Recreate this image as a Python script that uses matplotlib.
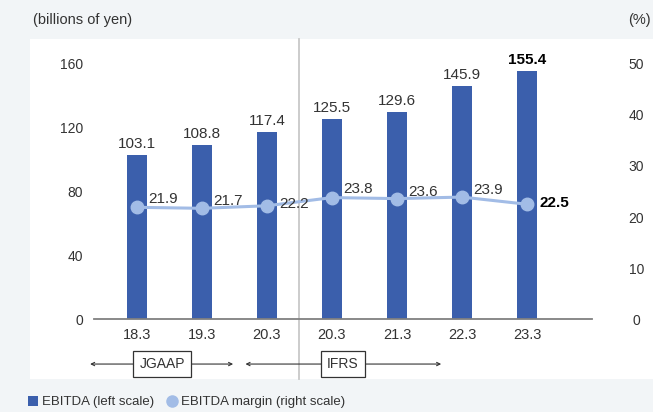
import numpy as np
import matplotlib.pyplot as plt
from matplotlib.patches import Rectangle, Patch
from matplotlib.lines import Line2D
import matplotlib.transforms as mtransforms

plt.rcParams['font.family'] = ['Liberation Sans', 'DejaVu Sans']

# 데이터
years = ['18.3', '19.3', '20.3', '20.3', '21.3', '22.3', '23.3']
ebitda = [103.1, 108.8, 117.4, 125.5, 129.6, 145.9, 155.4]
margin = [21.9, 21.7, 22.2, 23.8, 23.6, 23.9, 22.5]
left_ticks = [0, 40, 80, 120, 160]
right_ticks = [0, 10, 20, 30, 40, 50]

bar_color = '#3b5fac'
line_color = '#a2bce6'
text_color = '#333333'
bg_color = '#f2f5f7'

fig = plt.figure(figsize=(6.53, 4.12), dpi=100)
fig.patch.set_facecolor(bg_color)
# 흰색 패널
fig.patches.append(Rectangle((30 / 653, 33 / 412), 1 - 30 / 653, 340 / 412,
                             transform=fig.transFigure, facecolor='white',
                             edgecolor='none', zorder=-5))

ax = fig.add_axes([94 / 653, (412 - 319.3) / 412, 498 / 653, 255.7 / 412])
ax.set_facecolor('none')
ax2 = ax.twinx()

x = np.arange(len(years))
ax.bar(x, ebitda, width=0.31, color=bar_color, zorder=2)
ax.set_xlim(-0.66, 7.0)
ax.set_ylim(0, 160)
ax.set_yticks(left_ticks)
ax.set_xticks(x)
ax.set_xticklabels(years)
ax.tick_params(axis='x', length=0, pad=6, labelsize=10.5, colors=text_color)
ax.tick_params(axis='y', length=0, pad=8, labelsize=10, colors=text_color)
for s in ['top', 'right', 'left']:
    ax.spines[s].set_visible(False)
ax.spines['bottom'].set_color('#808080')
ax.spines['bottom'].set_linewidth(1.3)

# 막대 값 라벨
for i, v in enumerate(ebitda):
    last = i == len(ebitda) - 1
    ax.text(i, v + 2.5, f'{v:.1f}', ha='center', va='bottom', fontsize=11,
            color='black' if last else text_color,
            fontweight='bold' if last else 'normal')

# 마진 (오른쪽 축)
ax2.plot(x, margin, color=line_color, linewidth=2.2, marker='o',
         markersize=9, zorder=3)
ax2.set_ylim(0, 50)
ax2.set_yticks(right_ticks)
ax2.tick_params(axis='y', length=0, pad=32, labelsize=10, colors=text_color)
for lab in ax2.get_yticklabels():
    lab.set_ha('center')
for s in ax2.spines.values():
    s.set_visible(False)

offsets = [(8, 6), (8, 5), (9, 1), (8, 6), (8, 5), (8, 5), (9, 1)]
for i, v in enumerate(margin):
    last = i == len(margin) - 1
    ax2.annotate(f'{v:.1f}', (i, v), xytext=offsets[i], textcoords='offset points',
                 ha='left', va='center', fontsize=11,
                 color='black' if last else text_color,
                 fontweight='bold' if last else 'normal')

# 회계기준 구분선
trans = mtransforms.blended_transform_factory(ax.transData, fig.transFigure)
fig.lines.append(Line2D([2.5, 2.5], [33 / 412, 373 / 412], transform=trans,
                        color='#c8c8c8', linewidth=1.3, zorder=-4))

# JGAAP / IFRS 화살표
trans_ax = mtransforms.blended_transform_factory(ax.transData, ax.transAxes)
yy = -0.175
for lo, hi, mid, name in [(-0.72, 1.48, 0.39, 'JGAAP'), (1.67, 4.68, 3.17, 'IFRS')]:
    for end in (lo, hi):
        ax.annotate('', xy=(end, yy), xytext=(mid, yy), xycoords=trans_ax,
                    textcoords=trans_ax, annotation_clip=False,
                    arrowprops=dict(arrowstyle='->', color='#333333', lw=0.8,
                                    mutation_scale=6, shrinkA=0, shrinkB=0))
    ax.text(mid, yy, name, transform=trans_ax, ha='center', va='center',
            fontsize=10, color=text_color,
            bbox=dict(boxstyle='square,pad=0.45', facecolor='white',
                      edgecolor='#333333', linewidth=0.9))

# 축 단위
fig.text(33 / 653, 1 - 20 / 412, '(billions of yen)', ha='left', va='center',
         fontsize=10.5, color=text_color)
fig.text(651 / 653, 1 - 20 / 412, '(%)', ha='right', va='center',
         fontsize=10.5, color=text_color)

# 범례
handles = [Patch(facecolor=bar_color, edgecolor='none'),
           Line2D([], [], color=line_color, marker='o', linestyle='none', markersize=8)]
fig.legend(handles, ['EBITDA (left scale)', 'EBITDA margin (right scale)'],
           loc='center left', bbox_to_anchor=(16 / 653, 1 - 402 / 412), ncol=2,
           frameon=False, fontsize=9.5, handlelength=0.8, handleheight=0.8,
           handletextpad=0.3, columnspacing=0.9, labelcolor=text_color)

plt.savefig('out.png', dpi=100, facecolor=fig.get_facecolor())
